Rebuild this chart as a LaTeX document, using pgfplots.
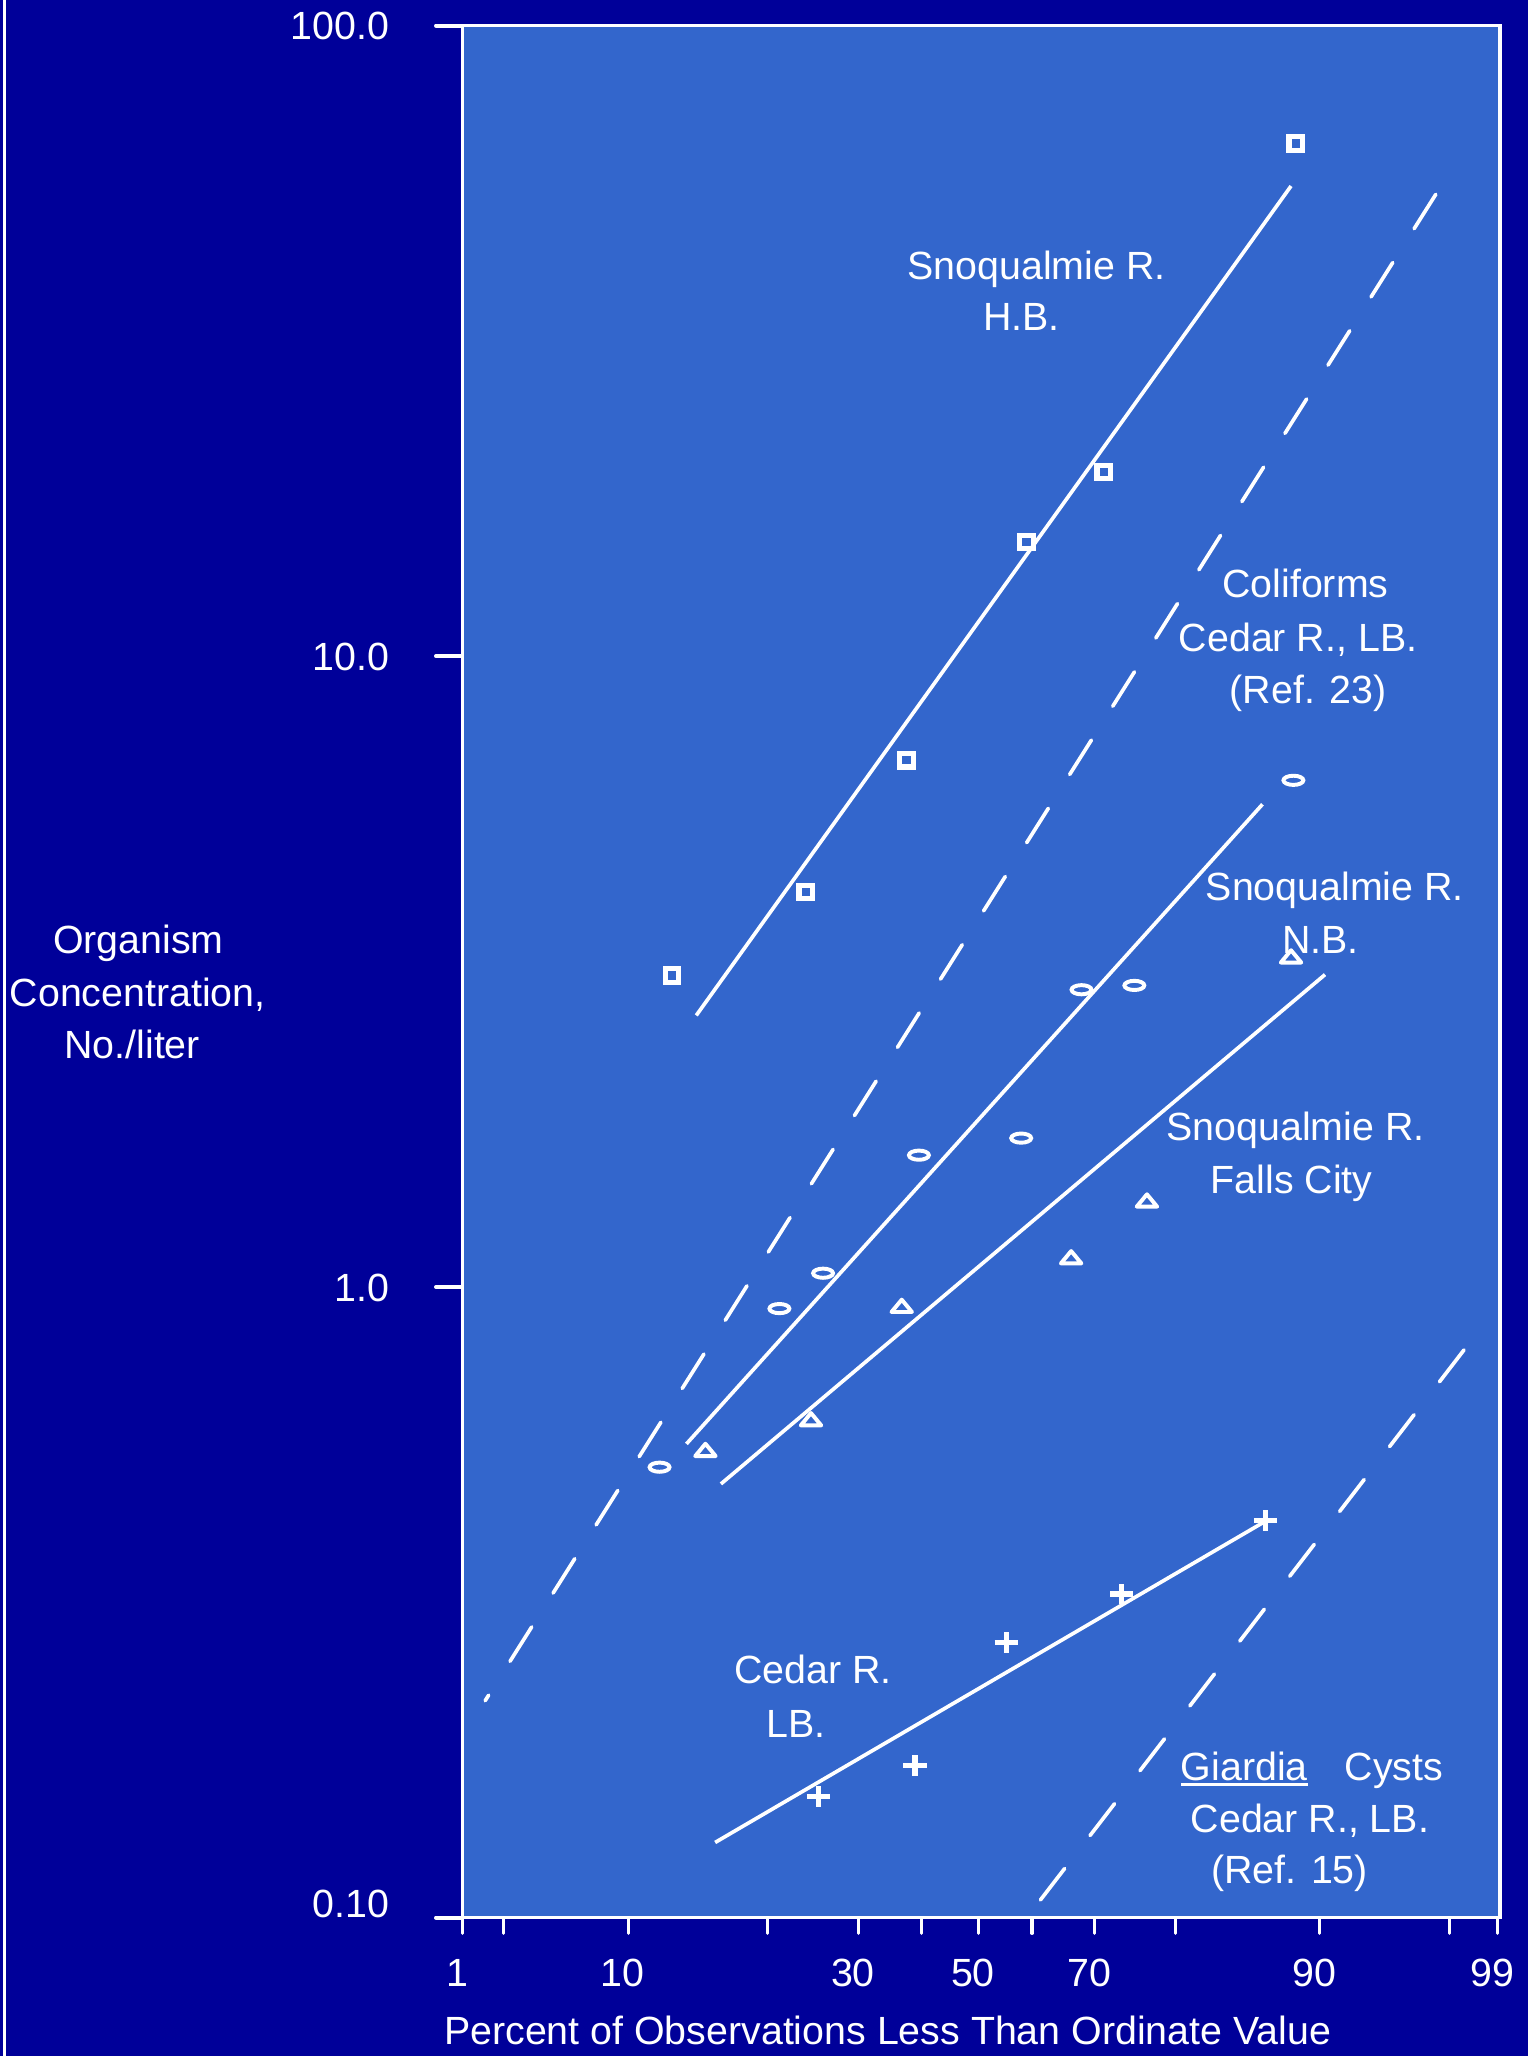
\documentclass[border=0pt]{standalone}
\usepackage{pgfplots}
\pgfplotsset{compat=1.18}
\usepackage{fontspec}
\setmainfont{Liberation Sans}
\definecolor{bgnavy}{HTML}{000099}
\definecolor{plotblue}{HTML}{3366CC}

\pgfdeclareplotmark{ellip}{\pgfpathellipse{\pgfpointorigin}{\pgfqpoint{3.8pt}{0pt}}{\pgfqpoint{0pt}{1.75pt}}\pgfusepathqstroke}
\pgfdeclareplotmark{tri}{\pgfpathmoveto{\pgfqpoint{0pt}{2.6pt}}\pgfpathlineto{\pgfqpoint{-3.9pt}{-2.1pt}}\pgfpathlineto{\pgfqpoint{3.9pt}{-2.1pt}}\pgfpathclose\pgfusepathqstroke}
\pgfdeclareplotmark{pls}{\pgfpathmoveto{\pgfqpoint{-4.4pt}{0pt}}\pgfpathlineto{\pgfqpoint{4.4pt}{0pt}}\pgfpathmoveto{\pgfqpoint{0pt}{-3.9pt}}\pgfpathlineto{\pgfqpoint{0pt}{3.9pt}}\pgfusepathqstroke}

\newcommand{\fs}{\fontsize{15}{19.5}\selectfont}
\newcommand{\ul}[1]{\setbox0\hbox{#1}\rlap{\rule[-2.15pt]{\wd0}{1.25pt}}\box0}

\begin{document}
\begin{tikzpicture}[lbl/.style={anchor=base, font=\fs, text=white, inner sep=0pt}]
\path[use as bounding box] (0,0) rectangle (582.5pt,784pt);
\fill[bgnavy] (0,0) rectangle (582.5pt,784pt);
\draw[white, line width=1.3pt] (1.65pt,0) -- (1.65pt,784pt);

% y ticks axis
\begin{axis}[
  at={(176.25pt,52.75pt)}, anchor=south west,
  scale only axis, width=395.75pt, height=721.5pt,
  xmin=352.5, xmax=1144, ymin=0.1, ymax=100, ymode=log,
  axis line style={white, line width=1.2pt},
  tick align=outside, major tick length=10pt, tick pos=left,
  xtick=\empty, xminorticks=false, yminorticks=false,
  ytick={0.1,1,10,100},
  yticklabels={\raisebox{5.4pt}{0.10},1.0,10.0,100.0},
  ytick style={white, line width=1.5pt, line cap=round},
  yticklabel style={font=\fs, text=white, anchor=base east, inner sep=0pt, xshift=-17.75pt, yshift=-5.37pt},
]
\end{axis}

% main axis
\begin{axis}[
  at={(176.25pt,52.75pt)}, anchor=south west,
  scale only axis, width=395.75pt, height=721.5pt,
  xmin=352.5, xmax=1144, ymin=0.1, ymax=100, ymode=log,
  axis background/.style={fill=plotblue},
  axis line style={white, line width=1.2pt},
  tick align=outside, major tick length=6pt, tick pos=left,
  xminorticks=false, yminorticks=false,
  xtick={352.5,384,479,585,654.5,702.7,746,787,834.6,896.5,1006.5,1105.5,1142},
  xticklabels={1,,10,,30,,50,,70,,90,,99},
  xtick style={white, line width=1.2pt, line cap=round},
  xticklabel style={font=\fs, text=white, anchor=base, inner sep=0pt, yshift=-20.25pt, xshift=-2pt},
  ytick=\empty,
]
% Coliforms, Cedar R., LB. (Ref. 23) - dashed
\addplot[white, line width=1.4pt, line cap=round, dash pattern=on 15.5pt off 15.26pt] coordinates {(1095,54.0) (370,0.2208)};
% Giardia cysts, Cedar R., LB. (Ref. 15) - dashed
\addplot[white, line width=1.4pt, line cap=round, dash pattern=on 15.3pt off 15.9pt] coordinates {(1116.5,0.7947) (793.5,0.1067)};

% Snoqualmie R. H.B.
\addplot[white, line width=1.4pt] coordinates {(531,2.695) (984.6,55.67)};
\addplot[only marks, white, mark=square, mark size=2.6pt, mark options={line width=2pt}] coordinates {
(512.5,3.118) (614.6,4.229) (691.2,6.842) (782.8,15.18) (841.8,19.60) (988.2,65.06)};

% Snoqualmie R. N.B.
\addplot[white, line width=1.4pt] coordinates {(523.5,0.5639) (962.8,5.825)};
\addplot[only marks, white, mark=ellip, mark options={line width=1.5pt}] coordinates {
(503,0.5179) (594.4,0.9241) (627.7,1.0515) (700.8,1.618) (778.8,1.722) (824.8,2.960) (865.1,3.007) (986.4,6.358)};

% Snoqualmie R. Falls City
\addplot[white, line width=1.4pt] coordinates {(549.8,0.4872) (1010.5,3.128)};
\addplot[only marks, white, mark=tri, mark options={line width=1.5pt, line join=round}] coordinates {
(538,0.5503) (618.5,0.6155) (687.7,0.9312) (816.9,1.112) (874.7,1.368) (984.6,3.335)};

% Cedar R. LB.
\addplot[white, line width=1.4pt] coordinates {(545.4,0.1316) (963.6,0.4235)};
\addplot[only marks, white, mark=pls, mark options={line width=2pt}] coordinates {
(624.2,0.1557) (697.8,0.1742) (767.4,0.2733) (855.4,0.3261) (965,0.4261)};
\end{axis}

\node[lbl] at (395.25pt,677.5pt) {Snoqualmie R.};
\node[lbl] at (389.5pt,658pt) {H.B.};
\node[lbl] at (497.8pt,556.15pt) {Coliforms};
\node[lbl] at (495pt,535.65pt) {Cedar R., LB.};
\node[lbl] at (498.8pt,515.65pt) {(Ref. 23)};
\node[lbl] at (509pt,440.65pt) {Snoqualmie R.};
\node[lbl] at (503.5pt,420.35pt) {N.B.};
\node[lbl] at (494pt,349.1pt) {Snoqualmie R.};
\node[lbl] at (492.5pt,329pt) {Falls City};
\node[lbl] at (310pt,142pt) {Cedar R.};
\node[lbl] at (303.5pt,121.5pt) {LB.};
\node[lbl] at (474.5pt,105pt) {\ul{Giardia}};
\node[lbl] at (531.5pt,105pt) {Cysts};
\node[lbl] at (499.5pt,85.25pt) {Cedar R., LB.};
\node[lbl] at (491.75pt,65.65pt) {(Ref. 15)};

\node[lbl] at (52.75pt,420.5pt) {Organism};
\node[lbl] at (52.5pt,400.25pt) {Concentration,};
\node[lbl] at (50.4pt,380.5pt) {No./liter};
\node[lbl] at (338.5pt,4.5pt) {Percent of Observations Less Than Ordinate Value};
\end{tikzpicture}
\end{document}
